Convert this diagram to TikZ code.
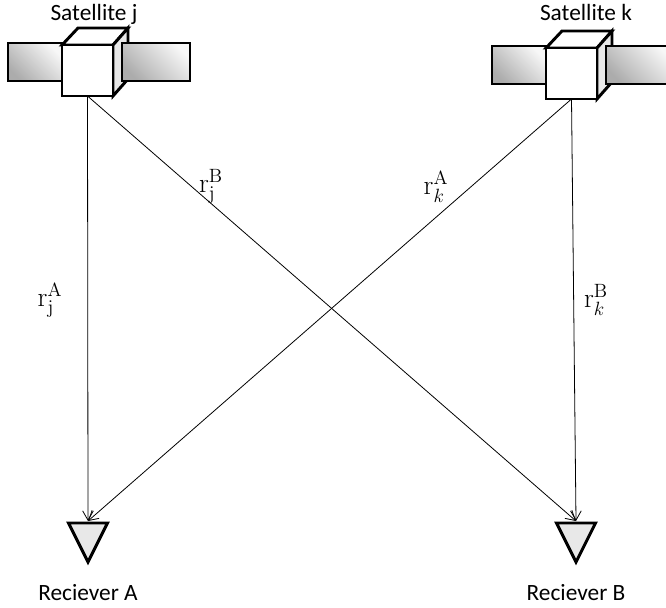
\documentclass[tikz,border=0pt]{standalone}
\usepackage[no-math]{fontspec}
\setmainfont{Carlito}
\usepackage{amsmath}
\usetikzlibrary{arrows.meta}

\tikzset{
    body/.style={draw, line width=2.2pt, line join=miter},
    panel/.style={body, top color=gray!6, bottom color=gray!65, shading angle=-45},
    ray/.style={-{Straight Barb[length=7pt,width=8pt]}, line width=0.6pt},
    tag/.style={font=\fontsize{17.5}{20}\selectfont, anchor=base},
    dist/.style={font=\fontsize{20.74}{24}\selectfont, inner sep=1pt}
}

\begin{document}
\begin{tikzpicture}[x=0.75pt, y=-0.75pt]

    \useasboundingbox (0,0) rectangle (666,607);

    % Satellites : panneau gauche, cube, panneau droit
    \foreach \dx/\dy/\nm in {0/0/j, 484/3/k}{
        \begin{scope}[shift={(\dx,\dy)}]
            \draw[panel] (8,43) rectangle (62,81);
            \draw[body, fill=white] (62,45) -- (78,28) -- (128,28) -- (113,45) -- cycle;
            \draw[body, fill=gray!18] (113,45) -- (128,28) -- (128,79) -- (113,96) -- cycle;
            \draw[body, fill=white] (62,45) rectangle (113,96);
            \draw[panel] (122,43) rectangle (190,81);
            \coordinate (sat\nm) at (87.5,96);
        \end{scope}
    }
    \node[tag] (namej) at (94,20) {Satellite j};
    \node[tag] (namek) at (586,20) {Satellite k};

    % Récepteurs (triangles pointe en bas)
    \foreach \nm/\x in {A/88, B/576}{
        \draw[body, fill=gray!18] (\x-19.5,523) -- (\x+19.5,523) -- (\x,562) -- cycle;
        \coordinate (rec\nm) at (\x,521);
        \node[tag] (name\nm) at (\x,600) {Reciever \nm};
    }

    % Trajets satellite -> récepteur
    \draw[ray] (satj) -- (recA);
    \draw[ray] (satj) -- (recB);
    \draw[ray] (satk) -- (recA);
    \draw[ray] (satk) -- (recB);

    % Distances
    \node[dist] (rjA) at (50,300) {$\mathrm{r}_{\mathrm{j}}^{\mathrm{A}}$};
    \node[dist] (rjB) at (211,186) {$\mathrm{r}_{\mathrm{j}}^{\mathrm{B}}$};
    \node[dist] (rkA) at (436,187) {$\mathrm{r}_{k}^{\mathrm{A}}$};
    \node[dist] (rkB) at (596,300) {$\mathrm{r}_{k}^{\mathrm{B}}$};

\end{tikzpicture}
\end{document}
